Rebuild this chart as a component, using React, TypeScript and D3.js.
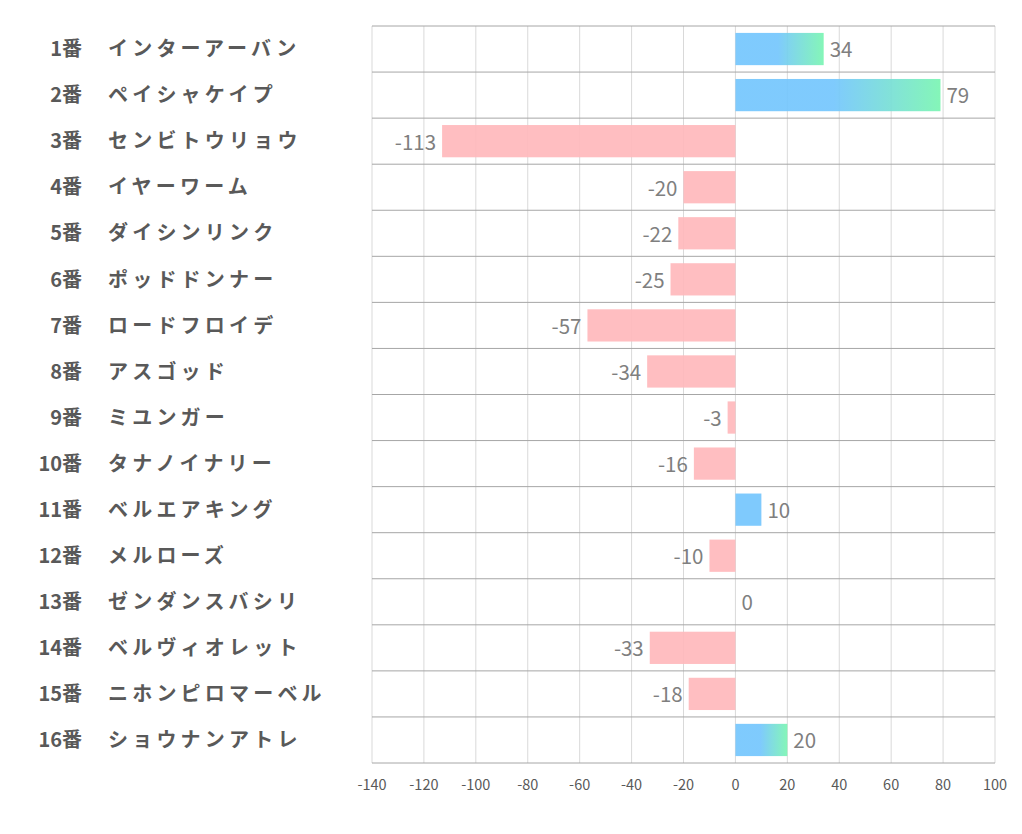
import React from 'react';
import * as d3 from 'd3';

const numbers = ['1番', '2番', '3番', '4番', '5番', '6番', '7番', '8番', '9番', '10番', '11番', '12番', '13番', '14番', '15番', '16番'];
const names = ['インターアーバン', 'ペイシャケイプ', 'センビトウリョウ', 'イヤーワーム', 'ダイシンリンク', 'ポッドドンナー', 'ロードフロイデ', 'アスゴッド', 'ミユンガー', 'タナノイナリー', 'ベルエアキング', 'メルローズ', 'ゼンダンスバシリ', 'ベルヴィオレット', 'ニホンピロマーベル', 'ショウナンアトレ'];
const values = [34, 79, -113, -20, -22, -25, -57, -34, -3, -16, 10, -10, 0, -33, -18, 20];
const ticks = [-140, -120, -100, -80, -60, -40, -20, 0, 20, 40, 60, 80, 100];

const W = 1022;
const H = 834;
const left = 372;
const right = 995;
const top = 26;
const bottom = 763;
const font = '"Noto Sans CJK JP", "Noto Sans", sans-serif';

const App: React.FC = () => {
  const x = d3.scaleLinear().domain([-140, 100]).range([left, right]);
  const y = d3.scaleBand<number>().domain(d3.range(values.length)).range([top, bottom]).paddingInner(0.3).paddingOuter(0.15);
  const step = y.step();
  const rowTop = (i: number) => top + i * step;

  const barFill = (v: number) => (v < 0 ? '#ffb8bc' : v >= 20 ? 'url(#posGrad)' : '#74c6fd');

  return (
    <svg width={W} height={H} style={{ position: 'absolute', left: 0, top: 0, background: '#fff' }}>
      <defs>
        <linearGradient id="posGrad" x1="0" x2="1" y1="0" y2="0">
          <stop offset="0%" stopColor="#74c6fd" />
          <stop offset="48%" stopColor="#74c6fd" />
          <stop offset="100%" stopColor="#7af5b2" />
        </linearGradient>
      </defs>
      {/* vertical grid */}
      {ticks.map(t => (
        <line key={'v' + t} x1={x(t)} x2={x(t)} y1={top} y2={bottom} stroke="#d9d9d9" strokeWidth={1} />
      ))}
      {/* horizontal row lines */}
      {d3.range(values.length + 1).map(i => (
        <line key={'h' + i} x1={left} x2={right} y1={rowTop(i)} y2={rowTop(i)} stroke="#a6a6a6" strokeWidth={1} />
      ))}
      {/* bars */}
      {values.map((v, i) => {
        const x0 = x(Math.min(0, v));
        const w = Math.abs(x(v) - x(0));
        return v === 0 ? null : (
          <rect key={'b' + i} x={x0} y={y(i)} width={w} height={y.bandwidth()}
            fill={barFill(v)} fillOpacity={0.92} />
        );
      })}
      {/* value labels */}
      {values.map((v, i) => (
        <text key={'l' + i} x={v >= 0 ? x(v) + 6 : x(v) - 6} y={(y(i) ?? 0) + y.bandwidth() / 2 + 1}
          dy="0.36em" textAnchor={v >= 0 ? 'start' : 'end'} fontFamily={font} fontSize={20.5} fill="#7f7f7f">
          {v}
        </text>
      ))}
      {/* category labels */}
      {numbers.map((n, i) => (
        <g key={'c' + i}>
          <text x={82} y={rowTop(i) + step / 2} dy="0.36em" textAnchor="end" fontFamily={font}
            fontWeight="bold" fontSize={20} fill="#595959">{n}</text>
          <text x={108} y={rowTop(i) + step / 2} dy="0.36em" textAnchor="start" fontFamily={font}
            fontWeight="bold" fontSize={20} fill="#595959" letterSpacing={4.2}>{names[i]}</text>
        </g>
      ))}
      {/* x tick labels */}
      {ticks.map(t => (
        <text key={'t' + t} x={x(t)} y={785} dy="0.36em" textAnchor="middle" fontFamily={font}
          fontSize={14.5} fill="#595959">{t}</text>
      ))}
    </svg>
  );
};

export default App;
